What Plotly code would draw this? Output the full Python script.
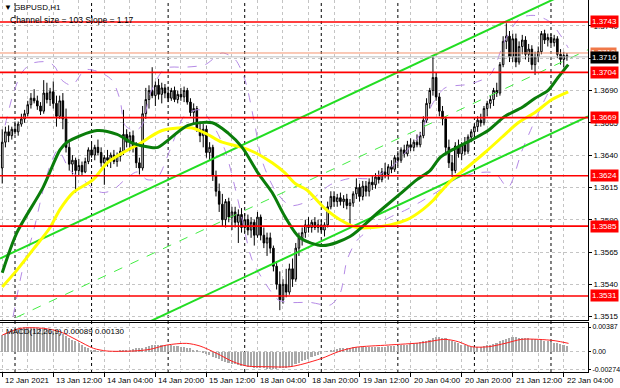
import plotly.graph_objects as go

# ---------------- data ----------------
bar_open = [
 1.3630,1.3650,1.3658,1.3655,1.3660,1.3658,1.3664,1.3668,1.3672,1.3679,
 1.3684,1.3682,1.3678,1.3674,1.3688,1.3683,1.3689,1.3680,1.3670,1.3682,
 1.3668,1.3646,1.3633,1.3636,1.3628,1.3632,1.3627,1.3635,1.3644,1.3640,
 1.3646,1.3642,1.3634,1.3638,1.3636,1.3640,1.3635,1.3639,1.3643,1.3656,
 1.3650,1.3655,1.3646,1.3634,1.3630,1.3672,1.3683,1.3690,1.3686,1.3694,
 1.3687,1.3692,1.3688,1.3684,1.3690,1.3683,1.3687,1.3685,1.3690,1.3681,
 1.3673,1.3676,1.3660,1.3655,1.3660,1.3642,1.3646,1.3624,1.3612,1.3602,
 1.3590,1.3604,1.3592,1.3596,1.3588,1.3594,1.3584,1.3590,1.3582,1.3588,
 1.3578,1.3592,1.3578,1.3572,1.3576,1.3568,1.3554,1.3540,1.3528,1.3540,
 1.3534,1.3552,1.3544,1.3568,1.3576,1.3580,1.3586,1.3584,1.3588,1.3584,
 1.3586,1.3582,1.3586,1.3600,1.3608,1.3604,1.3607,1.3604,1.3606,1.3601,
 1.3603,1.3610,1.3615,1.3608,1.3616,1.3612,1.3619,1.3617,1.3623,1.3621,
 1.3627,1.3625,1.3631,1.3629,1.3638,1.3636,1.3644,1.3641,1.3648,1.3646,
 1.3650,1.3648,1.3655,1.3667,1.3680,1.3690,1.3700,1.3685,1.3674,1.3668,
 1.3646,1.3634,1.3628,1.3647,1.3641,1.3648,1.3643,1.3654,1.3658,1.3662,
 1.3667,1.3665,1.3676,1.3680,1.3683,1.3690,1.3688,1.3710,1.3728,1.3732,
 1.3716,1.3730,1.3712,1.3724,1.3729,1.3718,1.3722,1.3710,1.3716,1.3720,
 1.3734,1.3729,1.3731,1.3727,1.3730,1.3718,1.3714,1.3717]
bar_high = [
 1.3660,1.3662,1.3663,1.3662,1.3666,1.3666,1.3672,1.3675,1.3682,1.3688,
 1.3691,1.3686,1.3681,1.3698,1.3696,1.3692,1.3697,1.3686,1.3686,1.3688,
 1.3676,1.3650,1.3640,1.3638,1.3637,1.3635,1.3638,1.3646,1.3650,1.3648,
 1.3652,1.3646,1.3640,1.3644,1.3642,1.3644,1.3642,1.3646,1.3675,1.3660,
 1.3658,1.3659,1.3650,1.3638,1.3678,1.3692,1.3694,1.3708,1.3697,1.3699,
 1.3696,1.3695,1.3693,1.3692,1.3693,1.3690,1.3692,1.3693,1.3692,1.3684,
 1.3680,1.3678,1.3666,1.3664,1.3663,1.3650,1.3648,1.3628,1.3618,1.3610,
 1.3606,1.3607,1.3600,1.3600,1.3598,1.3599,1.3595,1.3594,1.3592,1.3590,
 1.3596,1.3594,1.3584,1.3580,1.3580,1.3570,1.3558,1.3550,1.3544,1.3552,
 1.3556,1.3560,1.3572,1.3580,1.3584,1.3590,1.3592,1.3590,1.3592,1.3590,
 1.3590,1.3588,1.3604,1.3612,1.3612,1.3610,1.3611,1.3609,1.3610,1.3606,
 1.3612,1.3622,1.3618,1.3620,1.3620,1.3622,1.3624,1.3626,1.3628,1.3630,
 1.3634,1.3633,1.3636,1.3640,1.3643,1.3646,1.3648,1.3651,1.3653,1.3652,
 1.3656,1.3658,1.3670,1.3684,1.3692,1.3717,1.3704,1.3688,1.3678,1.3670,
 1.3652,1.3640,1.3650,1.3652,1.3650,1.3654,1.3656,1.3660,1.3664,1.3670,
 1.3672,1.3678,1.3682,1.3686,1.3692,1.3696,1.3712,1.3732,1.3742,1.3736,
 1.3734,1.3734,1.3728,1.3733,1.3732,1.3726,1.3725,1.3720,1.3724,1.3736,
 1.3737,1.3734,1.3734,1.3733,1.3732,1.3722,1.3720,1.3719]
bar_low = [
 1.3618,1.3646,1.3650,1.3652,1.3656,1.3655,1.3662,1.3665,1.3670,1.3676,
 1.3680,1.3675,1.3671,1.3672,1.3680,1.3678,1.3676,1.3662,1.3668,1.3660,
 1.3642,1.3628,1.3625,1.3611,1.3624,1.3624,1.3626,1.3633,1.3638,1.3636,
 1.3640,1.3631,1.3617,1.3631,1.3630,1.3633,1.3631,1.3635,1.3640,1.3646,
 1.3643,1.3642,1.3630,1.3625,1.3628,1.3668,1.3676,1.3684,1.3678,1.3683,
 1.3680,1.3684,1.3681,1.3682,1.3681,1.3680,1.3682,1.3681,1.3679,1.3670,
 1.3664,1.3658,1.3650,1.3646,1.3638,1.3636,1.3620,1.3608,1.3596,1.3585,
 1.3584,1.3588,1.3582,1.3584,1.3572,1.3580,1.3580,1.3578,1.3576,1.3570,
 1.3576,1.3574,1.3568,1.3562,1.3564,1.3550,1.3536,1.3520,1.3525,1.3530,
 1.3532,1.3538,1.3542,1.3562,1.3570,1.3576,1.3580,1.3580,1.3582,1.3580,
 1.3580,1.3577,1.3584,1.3598,1.3600,1.3600,1.3601,1.3599,1.3598,1.3585,
 1.3600,1.3606,1.3604,1.3605,1.3608,1.3608,1.3613,1.3614,1.3618,1.3619,
 1.3622,1.3621,1.3626,1.3627,1.3632,1.3634,1.3638,1.3639,1.3643,1.3643,
 1.3646,1.3646,1.3653,1.3665,1.3676,1.3686,1.3682,1.3670,1.3663,1.3642,
 1.3630,1.3623,1.3626,1.3638,1.3636,1.3640,1.3641,1.3650,1.3652,1.3658,
 1.3662,1.3663,1.3670,1.3676,1.3678,1.3685,1.3686,1.3708,1.3722,1.3712,
 1.3712,1.3708,1.3710,1.3718,1.3714,1.3712,1.3706,1.3702,1.3712,1.3718,
 1.3726,1.3724,1.3725,1.3724,1.3715,1.3710,1.3708,1.3713]
bar_close = [
 1.3650,1.3658,1.3655,1.3660,1.3658,1.3664,1.3668,1.3672,1.3679,1.3684,
 1.3682,1.3678,1.3674,1.3688,1.3683,1.3689,1.3680,1.3670,1.3682,1.3668,
 1.3646,1.3633,1.3636,1.3628,1.3632,1.3627,1.3635,1.3644,1.3640,1.3646,
 1.3642,1.3634,1.3638,1.3636,1.3640,1.3635,1.3639,1.3643,1.3656,1.3650,
 1.3655,1.3646,1.3634,1.3630,1.3672,1.3683,1.3690,1.3686,1.3694,1.3687,
 1.3692,1.3688,1.3684,1.3690,1.3683,1.3687,1.3685,1.3690,1.3681,1.3673,
 1.3676,1.3660,1.3655,1.3660,1.3642,1.3646,1.3624,1.3612,1.3602,1.3590,
 1.3604,1.3592,1.3596,1.3588,1.3594,1.3584,1.3590,1.3582,1.3588,1.3578,
 1.3592,1.3578,1.3572,1.3576,1.3568,1.3554,1.3540,1.3528,1.3540,1.3534,
 1.3552,1.3544,1.3568,1.3576,1.3580,1.3586,1.3584,1.3588,1.3584,1.3586,
 1.3582,1.3586,1.3600,1.3608,1.3604,1.3607,1.3604,1.3606,1.3601,1.3603,
 1.3610,1.3615,1.3608,1.3616,1.3612,1.3619,1.3617,1.3623,1.3621,1.3627,
 1.3625,1.3631,1.3629,1.3638,1.3636,1.3644,1.3641,1.3648,1.3646,1.3650,
 1.3648,1.3655,1.3667,1.3680,1.3690,1.3700,1.3685,1.3674,1.3668,1.3646,
 1.3634,1.3628,1.3647,1.3641,1.3648,1.3643,1.3654,1.3658,1.3662,1.3667,
 1.3665,1.3676,1.3680,1.3683,1.3690,1.3688,1.3710,1.3728,1.3732,1.3716,
 1.3730,1.3712,1.3724,1.3729,1.3718,1.3722,1.3710,1.3716,1.3720,1.3734,
 1.3729,1.3731,1.3727,1.3730,1.3718,1.3714,1.3717,1.3716]
bar_index = list(range(len(bar_close)))

# moving averages (sampled points: bar index, price)
ma_fast_idx = [0, 4.6, 12.8, 18.1, 20.3, 29.7, 36, 41, 46.3, 48.8, 58.2, 65.8, 70.8, 75.2, 80.2, 84.6,
               88.7, 93.3, 100.6, 109, 117.5, 123.8, 130, 134.1, 137.2, 141, 147.3, 152.3, 157.6, 163,
               167, 171.1, 174.2, 177.4]
ma_fast_val = [1.3549, 1.3580, 1.3615, 1.3644, 1.3650, 1.3659, 1.3656, 1.3649, 1.3646, 1.3646, 1.3663,
               1.3665, 1.3657, 1.3646, 1.3626, 1.3611, 1.3592, 1.3576, 1.3570, 1.3577, 1.3595, 1.3608,
               1.3621, 1.3628, 1.3638, 1.3644, 1.3652, 1.3659, 1.3670, 1.3677, 1.3684, 1.3690, 1.3700,
               1.3710]
ma_slow_idx = [0, 4.6, 9.7, 15, 18.1, 22.2, 28.5, 32.9, 37.9, 43.2, 46.3, 50.1, 55.1, 59.5, 63.6, 68.9,
               75.2, 79.2, 84.6, 88.7, 91.8, 95.5, 100.6, 105.9, 111.2, 116.2, 121.6, 126.9, 131.9,
               135.1, 137.2, 141, 146, 151.3, 156.7, 161.7, 167, 172.3, 177.4]
ma_slow_val = [1.3538, 1.3551, 1.3567, 1.3584, 1.3598, 1.3611, 1.3621, 1.3634, 1.3642, 1.3649, 1.3654,
               1.3659, 1.3661, 1.3661, 1.3657, 1.3650, 1.3646, 1.3642, 1.3634, 1.3626, 1.3618, 1.3613,
               1.3600, 1.3590, 1.3584, 1.3584, 1.3586, 1.3590, 1.3598, 1.3605, 1.3611, 1.3621, 1.3631,
               1.3642, 1.3654, 1.3665, 1.3673, 1.3683, 1.3689]
band_up_idx = [0.9, 3.4, 6.2, 9.3, 14.4, 16.6, 18.7, 21.9, 26, 30.7, 34.4, 36.9, 38.5, 41.6, 43.8, 46.3,
               51, 57.3, 63.6, 68.9, 73, 76.1, 79.2, 81.4, 85.5, 90.2, 96.5, 102.8, 109, 115.3, 121.6,
               126.3, 131, 134.7, 138.8, 146.6, 152.9, 157.6, 162.3, 167, 171.7, 174.9, 177.4]
band_up_val = [1.3663, 1.3687, 1.3704, 1.3711, 1.3712, 1.3708, 1.3698, 1.3694, 1.3706, 1.3704, 1.3698,
               1.3683, 1.3663, 1.3659, 1.3663, 1.3687, 1.3707, 1.3708, 1.3710, 1.3719, 1.3714, 1.3698,
               1.3663, 1.3636, 1.3613, 1.3601, 1.3605, 1.3617, 1.3622, 1.3622, 1.3630, 1.3642, 1.3656,
               1.3679, 1.3692, 1.3695, 1.3702, 1.3729, 1.3746, 1.3748, 1.3743, 1.3733, 1.3723]
band_dn_idx = [3.4, 6.5, 9.7, 12.8, 15, 17.5, 21.3, 25.3, 29.1, 31.6, 34.7, 38.5, 42.3, 45.4, 48.5, 52.6,
               57.3, 62, 66.1, 69.8, 73.9, 76.1, 78.3, 82.4, 86.5, 90.2, 96.5, 102.8, 105.9, 108.1,
               111.2, 116.2, 121.6, 126.9, 131.9, 137.2, 141.9, 148.2, 154.5, 158.5, 163, 167, 171.1,
               174.2, 177.4]
band_dn_val = [1.3515, 1.3553, 1.3580, 1.3613, 1.3632, 1.3644, 1.3628, 1.3621, 1.3613, 1.3611, 1.3613,
               1.3621, 1.3627, 1.3621, 1.3622, 1.3644, 1.3671, 1.3675, 1.3663, 1.3644, 1.3605, 1.3580,
               1.3559, 1.3541, 1.3528, 1.3526, 1.3526, 1.3524, 1.3533, 1.3559, 1.3574, 1.3584, 1.3592,
               1.3598, 1.3605, 1.3613, 1.3621, 1.3626, 1.3626, 1.3615, 1.3644, 1.3667, 1.3688, 1.3700,
               1.3709]

# regression channel (ends at the chart edges)
channel_x = [-0.7, 183.6]
channel_upper = [1.3560, 1.3773]
channel_mid = [1.35085, 1.37215]
channel_lower = [1.3457, 1.3670]

# support / resistance levels
levels = [1.3743, 1.3704, 1.3669, 1.3624, 1.3585, 1.3531]
ask_price = 1.3719
bid_price = 1.3716

# MACD (values x 1e-4)
macd_hist_pips = [
 26, 28, 30, 32, 34, 36, 37, 38, 38, 38,
 38, 37, 37, 36, 34, 33, 32, 31, 29, 27,
 25, 22, 19, 16, 13, 10, 8, 5, 3, 2,
 1, 1, 0, 0, 0, 1, 1, 2, 2, 2,
 3, 4, 5, 6, 6, 8, 9, 10, 10, 10,
 10, 10, 10, 10, 9, 9, 8, 7, 6, 5,
 3, 2, 0, -2, -4, -6, -8, -10, -12, -14,
 -16, -18, -19, -20, -21, -22, -23, -24, -24, -25,
 -26, -26, -26, -27, -27, -27, -27, -26, -26, -25,
 -24, -22, -20, -18, -15, -13, -11, -9, -7, -5,
 -3, 0, 1, 2, 3, 4, 5, 5, 6, 6,
 7, 7, 7, 7, 8, 8, 8, 8, 8, 8,
 8, 9, 9, 9, 9, 10, 10, 11, 12, 13,
 14, 15, 16, 17, 19, 21, 23, 23, 22, 21,
 19, 17, 15, 13, 11, 10, 9, 8, 8, 8,
 8, 9, 10, 11, 12, 14, 16, 18, 20, 22,
 23, 23, 22, 22, 22, 21, 20, 20, 19, 18,
 17, 16, 15, 14, 13, 12, 10, 9]
signal_idx = [0, 5.6, 12.9, 18.1, 23.4, 28.6, 32.8, 41, 46.3, 51.6, 57.8, 62, 67.2, 72.4, 76.7, 82.9,
              90.2, 94.6, 100.2, 105.4, 110.6, 121, 131.5, 138.8, 143, 147.2, 152.4, 157.6, 162.8,
              168, 173.3, 177.5]
signal_pips = [26, 36.6, 36.6, 31.3, 18.2, 5.2, 1, 1, 3.6, 10.4, 13, 8.8, -2.7, -15.9, -22.6, -23.7,
               -23.7, -19, -10.5, 0, 6.7, 10.4, 14, 19.3, 15.5, 7.7, 7.7, 13, 19.3, 19.3, 17.1, 13]
macd_hist = [v * 1e-4 for v in macd_hist_pips]
signal_val = [v * 1e-4 for v in signal_pips]

# axis labels
price_ticks = [1.3515, 1.3540, 1.3565, 1.3590, 1.3615, 1.3640, 1.3665, 1.3690, 1.3715, 1.3740]
time_label_idx = [0, 16, 32, 48, 64, 80, 96, 112, 128, 144, 160, 176]
time_labels = ["12 Jan 2021", "13 Jan 12:00", "14 Jan 04:00", "14 Jan 20:00", "15 Jan 12:00",
               "18 Jan 04:00", "18 Jan 20:00", "19 Jan 12:00", "20 Jan 04:00", "20 Jan 20:00",
               "21 Jan 12:00", "22 Jan 04:00"]
grid_minor_idx = [8, 24, 40, 56, 72, 88, 104, 120, 136, 152, 168]
day_start_idx = [4, 28, 52, 76, 100, 124, 148, 172]
macd_ticks = [0.00387, 0.0, -0.00274]
macd_ticktext = ["0.00387", "0.00", "-0.00274"]

# ---------------- figure ----------------
W, H = 620, 388
PW = 588 / W
main_dom = [1 - 320 / H, 1.0]
macd_dom = [1 - 372 / H, 1 - 323 / H]
XR = [-0.7, 183.6]
FONT = "Liberation Sans"
GRID = "#c4c4c4"

fig = go.Figure()

band_style = dict(color="#b58ae6", width=1, dash="dash", shape="spline", smoothing=0.8)
fig.add_trace(go.Scatter(x=band_up_idx, y=band_up_val, mode="lines", line=band_style))
fig.add_trace(go.Scatter(x=band_dn_idx, y=band_dn_val, mode="lines", line=band_style))

fig.add_trace(go.Scatter(x=channel_x, y=channel_mid, mode="lines",
                         line=dict(color="#44ee44", width=1, dash="dash")))
fig.add_trace(go.Scatter(x=channel_x, y=channel_upper, mode="lines",
                         line=dict(color="#22dd22", width=2)))
fig.add_trace(go.Scatter(x=channel_x, y=channel_lower, mode="lines",
                         line=dict(color="#22dd22", width=2)))

fig.add_trace(go.Scatter(x=ma_slow_idx, y=ma_slow_val, mode="lines",
                         line=dict(color="#ffff00", width=3, shape="spline", smoothing=0.8)))
fig.add_trace(go.Scatter(x=ma_fast_idx, y=ma_fast_val, mode="lines",
                         line=dict(color="#0a7d0a", width=3, shape="spline", smoothing=0.8)))

fig.add_trace(go.Candlestick(
    x=bar_index, open=bar_open, high=bar_high, low=bar_low, close=bar_close,
    increasing=dict(line=dict(color="#000000", width=1), fillcolor="#ffffff"),
    decreasing=dict(line=dict(color="#000000", width=1), fillcolor="#000000"),
    whiskerwidth=0, xaxis="x", yaxis="y"))

fig.add_trace(go.Bar(x=bar_index, y=macd_hist, width=0.5, marker=dict(color="#a9a9a9", line=dict(width=0)),
                     xaxis="x2", yaxis="y2"))
fig.add_trace(go.Scatter(x=signal_idx, y=signal_val, mode="lines", xaxis="x2", yaxis="y2",
                         line=dict(color="#ff2020", width=1, shape="spline", smoothing=0.8)))

shapes = []
for d in day_start_idx:
    shapes.append(dict(type="line", xref="x", yref="paper", x0=d, x1=d,
                       y0=macd_dom[0], y1=main_dom[1], line=dict(color="#000000", width=1, dash="dot"),
                       layer="below"))
shapes.append(dict(type="line", xref="paper", yref="y", x0=0, x1=PW, y0=ask_price, y1=ask_price,
                   line=dict(color="#f4926e", width=1)))
shapes.append(dict(type="line", xref="paper", yref="y", x0=0, x1=PW, y0=bid_price, y1=bid_price,
                   line=dict(color="#bdbdbd", width=1)))
for lv in levels:
    shapes.append(dict(type="line", xref="paper", yref="y", x0=0, x1=PW, y0=lv, y1=lv,
                       line=dict(color="#ff0000", width=1.6)))

ann = []
ann.append(dict(text="▼ GBPUSD,H1", xref="paper", yref="paper", x=2 / W, y=1 - 1 / H,
                xanchor="left", yanchor="top", showarrow=False, font=dict(family=FONT, size=8, color="#000")))
ann.append(dict(text="Channel size = 103 Slope = 1.17", xref="paper", yref="paper", x=8 / W, y=1 - 13 / H,
                xanchor="left", yanchor="top", showarrow=False, font=dict(family=FONT, size=8.5, color="#000")))
ann.append(dict(text="MACD(12,26,9) 0.00089 0.00130", xref="paper", yref="paper", x=4 / W, y=1 - 325 / H,
                xanchor="left", yanchor="top", showarrow=False, font=dict(family=FONT, size=8, color="#000")))
ann.append(dict(text=f"{ask_price:.4f}", xref="paper", yref="y", x=PW + 1.5 / W, y=ask_price + 0.00005,
                xanchor="left", yanchor="middle", showarrow=False, bgcolor="#f07848", borderpad=0,
                font=dict(family=FONT, size=8, color="#fff")))
ann.append(dict(text=f"{bid_price:.4f}", xref="paper", yref="y", x=PW + 1.5 / W, y=bid_price - 0.00002,
                xanchor="left", yanchor="middle", showarrow=False, bgcolor="#000000", borderpad=1,
                font=dict(family=FONT, size=8, color="#fff")))
for lv in levels:
    ann.append(dict(text=f"{lv:.4f}", xref="paper", yref="y", x=PW + 1.5 / W, y=lv,
                    xanchor="left", yanchor="middle", showarrow=False, bgcolor="#ff0000", borderpad=1,
                    font=dict(family=FONT, size=8, color="#fff")))
for i, t in zip(time_label_idx, time_labels):
    ann.append(dict(text=t, xref="x2", yref="paper", x=i, y=1 - 374 / H, xanchor="left", yanchor="top",
                    xshift=1, showarrow=False, font=dict(family=FONT, size=8, color="#000")))

xcommon = dict(range=XR, domain=[0, PW], showline=True, linecolor="#000", linewidth=1, mirror=True,
               zeroline=False, showgrid=True, gridcolor=GRID, griddash="dot", gridwidth=1,
               tickvals=time_label_idx, showticklabels=False,
               minor=dict(tickvals=grid_minor_idx, showgrid=True, gridcolor=GRID, griddash="dot", ticks=""),
               fixedrange=True)

fig.update_layout(
    width=W, height=H, margin=dict(l=0, r=0, t=0, b=0),
    paper_bgcolor="#ffffff", plot_bgcolor="#ffffff", showlegend=False,
    xaxis=dict(**xcommon, anchor="y", ticks="", rangeslider=dict(visible=False)),
    xaxis2=dict(**xcommon, anchor="y2", ticks="outside", ticklen=4, tickcolor="#000"),
    yaxis=dict(domain=main_dom, range=[1.35124, 1.3760], side="right", anchor="x",
               tickvals=price_ticks, ticktext=[f"{p:.4f}" for p in price_ticks],
               tickfont=dict(family=FONT, size=8, color="#000"), ticks="outside", ticklen=3, tickcolor="#000",
               showgrid=True, gridcolor=GRID, griddash="dot", zeroline=False,
               showline=True, linecolor="#000", mirror=True, automargin=False, fixedrange=True),
    yaxis2=dict(domain=macd_dom, range=[-0.0032, 0.0045], side="right", anchor="x2",
                tickvals=macd_ticks, ticktext=macd_ticktext,
                tickfont=dict(family=FONT, size=7, color="#000"), ticks="outside", ticklen=2, tickcolor="#000",
                showgrid=True, gridcolor=GRID, griddash="dot", zeroline=False,
                showline=True, linecolor="#000", mirror=True, automargin=False, fixedrange=True),
    shapes=shapes, annotations=ann, bargap=0,
)

fig.write_html("out.html", config={"displayModeBar": False},
               post_script="document.body.style.margin='0';document.body.style.padding='0';"
                           "document.body.style.overflow='hidden';")
